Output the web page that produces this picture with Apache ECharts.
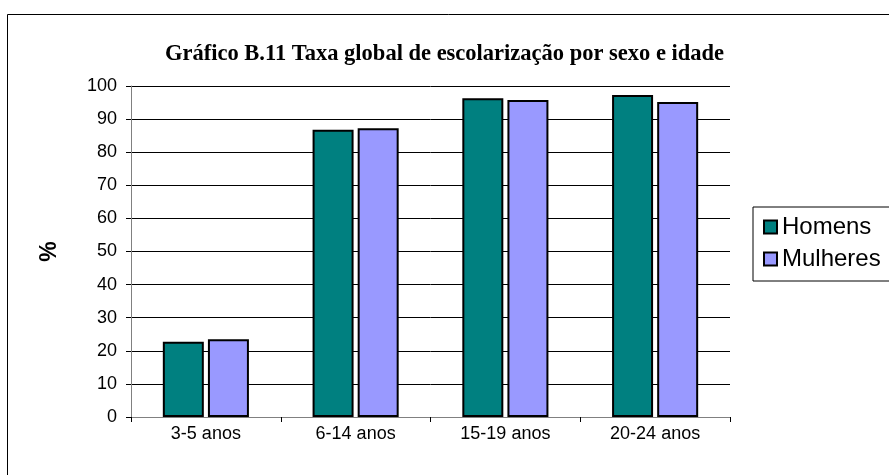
<!DOCTYPE html>
<html>
<head>
<meta charset="utf-8">
<script src="https://cdn.jsdelivr.net/npm/echarts@6/dist/echarts.min.js"></script>
<style>
    html, body { margin: 0; padding: 0; background: #fff; }
    #chart { width: 889px; height: 475px; }
</style>
</head>
<body>
<div id="chart"></div>
<script>
// dados
const categories = ['3-5 anos', '6-14 anos', '15-19 anos', '20-24 anos'];
const homens = [22.7, 86.8, 96.3, 97.3];
const mulheres = [23.5, 87.2, 95.8, 95.2];
const yTicks = [0, 100, 10]; // min, max, interval

const chart = echarts.init(document.getElementById('chart'));

const option = {
    animation: false,
    backgroundColor: '#fff',
    title: {
        text: 'Gráfico B.11 Taxa global de escolarização por sexo e idade',
        left: 'center',
        top: 38,
        textStyle: {
            fontFamily: 'Liberation Serif',
            fontWeight: 'bold',
            fontSize: 22.5,
            color: '#000'
        }
    },
    // moldura do gráfico
    graphic: [{
        type: 'rect',
        shape: { x: 7.5, y: 14.5, width: 900, height: 500 },
        style: { fill: 'none', stroke: '#000', lineWidth: 1 },
        silent: true,
        z: -1
    }],
    legend: {
        orient: 'vertical',
        left: 753,
        top: 207,
        padding: [8, 30, 10, 10],
        itemGap: 8,
        itemWidth: 13,
        itemHeight: 13,
        icon: 'rect',
        borderColor: '#000',
        borderWidth: 1,
        textStyle: {
            fontFamily: 'Liberation Sans',
            fontSize: 24,
            color: '#000'
        },
        data: ['Homens', 'Mulheres']
    },
    grid: {
        left: 131,
        right: 159,
        top: 86,
        bottom: 58
    },
    xAxis: {
        type: 'category',
        data: categories,
        axisLine: { lineStyle: { color: '#808080', width: 1 } },
        axisTick: { show: true, length: 5, lineStyle: { color: '#000' } },
        axisLabel: {
            fontFamily: 'Liberation Sans',
            fontSize: 18,
            color: '#000',
            margin: 8
        }
    },
    yAxis: {
        type: 'value',
        min: yTicks[0],
        max: yTicks[1],
        interval: yTicks[2],
        name: '%',
        nameLocation: 'middle',
        nameGap: 70,
        nameRotate: 90,
        nameTextStyle: {
            fontFamily: 'Liberation Sans',
            fontWeight: 'bold',
            fontSize: 23,
            color: '#000'
        },
        axisLine: { show: true, lineStyle: { color: '#808080', width: 1 } },
        axisTick: { show: true, length: 5, lineStyle: { color: '#000' } },
        axisLabel: {
            fontFamily: 'Liberation Sans',
            fontSize: 18,
            color: '#000',
            margin: 14
        },
        splitLine: { lineStyle: { color: '#000', width: 1 } }
    },
    series: [
        {
            name: 'Homens',
            type: 'bar',
            data: homens,
            barWidth: 41,
            barGap: '10%',
            itemStyle: { color: '#008080', borderColor: '#000', borderWidth: 2 }
        },
        {
            name: 'Mulheres',
            type: 'bar',
            data: mulheres,
            barWidth: 41,
            itemStyle: { color: '#9999FF', borderColor: '#000', borderWidth: 2 }
        }
    ]
};

chart.setOption(option);
</script>
</body>
</html>
